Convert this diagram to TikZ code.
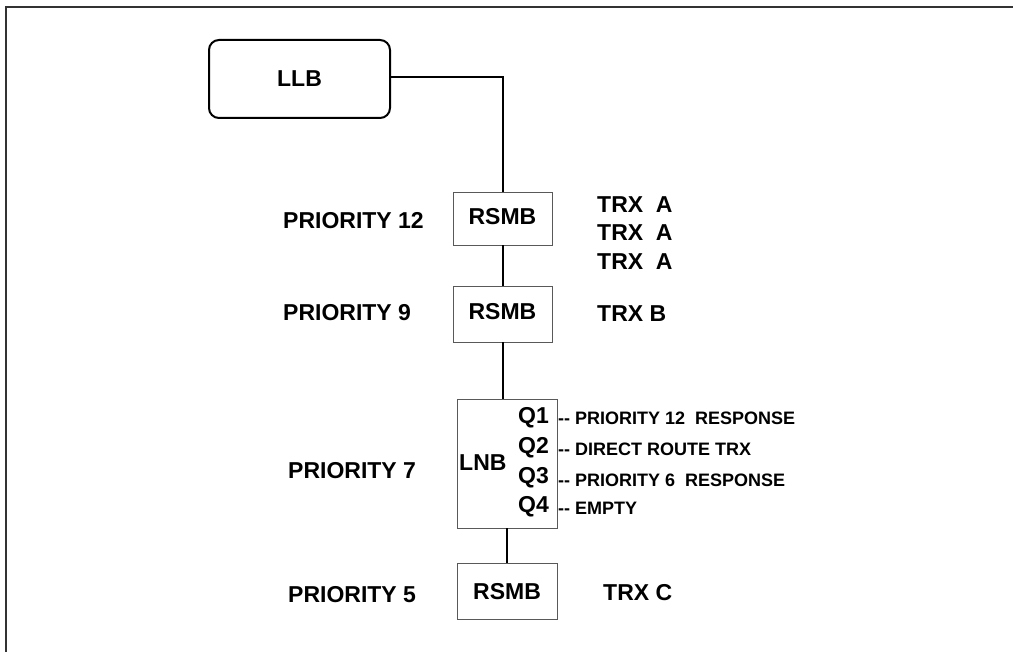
\documentclass[tikz,border=0pt]{standalone}
\usepackage{fontspec}
\setmainfont{Liberation Sans}
\begin{document}
\begin{tikzpicture}[x=1pt,y=-1pt,
  lbl/.style={font=\fontsize{23}{28}\selectfont\bfseries, inner sep=0pt},
  desc/.style={font=\fontsize{18}{22}\selectfont\bfseries, inner sep=0pt, anchor=west},
  qbox/.style={draw=black!65, line width=0.9pt, inner sep=0pt},
  conn/.style={draw=black, line width=2pt}]
\useasboundingbox (0,0) rectangle (1013,652);
% frame
\draw[draw=black!80, line width=2pt] (6,652) -- (6,7) -- (1013,7);
% LLB
\node[draw=black, line width=2pt, rounded corners=10pt, minimum width=181pt, minimum height=78pt, lbl] (llb) at (299.5,79) {LLB};
% RSMB boxes
\node[qbox, minimum width=99pt, minimum height=53pt] (r1) at (502.5,218.5) {};
\node[lbl] at (502.5,217) {RSMB};
\node[qbox, minimum width=99pt, minimum height=56pt] (r2) at (502.5,314) {};
\node[lbl] at (502.5,312) {RSMB};
\node[qbox, minimum width=100pt, minimum height=129pt] (lnb) at (507,463.5) {};
\node[lbl, anchor=west] at (459,463) {LNB};
\node[qbox, minimum width=100pt, minimum height=56pt] (r3) at (507,591) {};
\node[lbl] at (507,592) {RSMB};
% connectors
\coordinate (bend) at (502.5,77);
\draw[conn] (llb.east |- bend) -- (bend) -- (r1.north);
\draw[conn] (r1.south) -- (r2.north);
\draw[conn] (r2.south) -- (r2.south |- lnb.north);
\draw[conn] (lnb.south) -- (r3.north);
% priorities
\node[lbl, anchor=west] (p12) at (283,221) {PRIORITY 12};
\node[lbl, anchor=west] (p9) at (283,313) {PRIORITY 9};
\node[lbl, anchor=west] (p7) at (288,471) {PRIORITY 7};
\node[lbl, anchor=west] (p5) at (288,595) {PRIORITY 5};
% TRX
\node[lbl, anchor=west] (ta1) at (597,205) {TRX\ \ A};
\node[lbl, anchor=west] (ta2) at (597,233) {TRX\ \ A};
\node[lbl, anchor=west] (ta3) at (597,262) {TRX\ \ A};
\node[lbl, anchor=west] (tb) at (597,314) {TRX B};
\node[lbl, anchor=west] (tc) at (603,593) {TRX C};
% queues
\node[lbl, anchor=east] (q1) at (549,418) {Q1};
\node[lbl, anchor=east] (q2) at (549,448) {Q2};
\node[lbl, anchor=east] (q3) at (549,478) {Q3};
\node[lbl, anchor=east] (q4) at (549,507) {Q4};
\node[desc] (d1) at (558,418) {-{}- PRIORITY 12\ \ RESPONSE};
\node[desc] (d2) at (558,449) {-{}- DIRECT ROUTE TRX};
\node[desc] (d3) at (558,480) {-{}- PRIORITY 6\ \ RESPONSE};
\node[desc] (d4) at (558,508) {-{}- EMPTY};
\end{tikzpicture}
\end{document}
